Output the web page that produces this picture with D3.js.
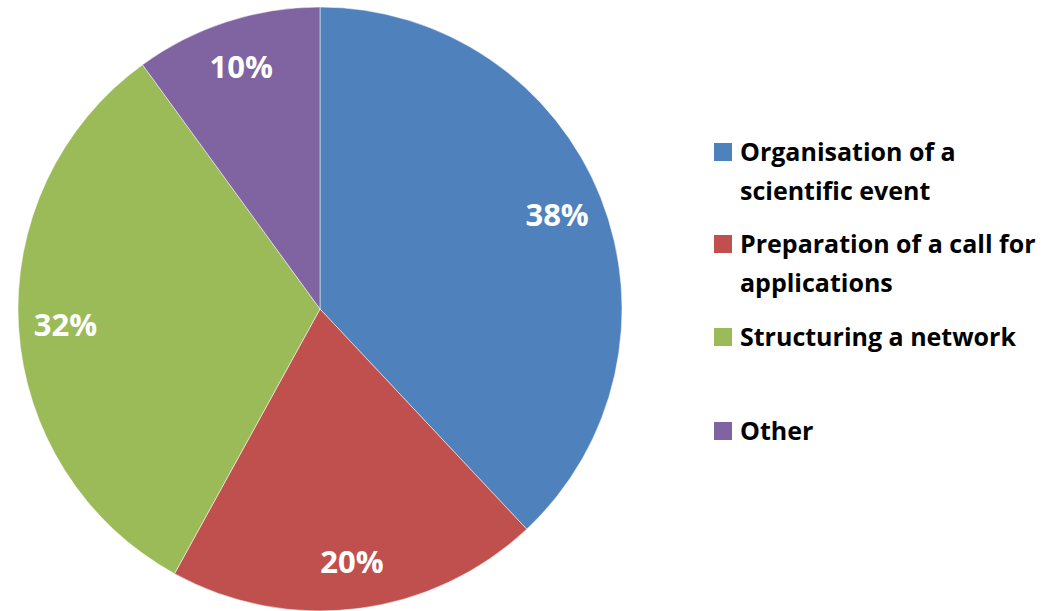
<!DOCTYPE html>
<html>
<head>
  <meta charset="utf-8">
  <style>
    body { margin: 0; padding: 0; background: white; }
    svg { display: block; font-family: "Open Sans", Lato, sans-serif; font-weight: bold; }
    .slice { stroke: rgba(255,255,255,0.5); stroke-width: 1; }
    .pct { fill: white; font-size: 31px; text-anchor: middle; }
    .legend text { fill: black; font-size: 25px; }
  </style>
</head>
<body>
  <div id="chart"></div>
  <script src="https://d3js.org/d3.v7.min.js"></script>
  <script>
  // chart data
  var categories = ["Organisation of a scientific event", "Preparation of a call for applications", "Structuring a network", "Other"];
  var legendLines = [["Organisation of a", "scientific event"], ["Preparation of a call for", "applications"], ["Structuring a network"], ["Other"]];
  var values = [38, 20, 32, 10];
  var colors = ["#4F81BD", "#C0504D", "#9BBB59", "#8064A2"];

  var width = 1061, height = 611;
  var cx = 320, cy = 309, radius = 302;

  var svg = d3.select("#chart").append("svg")
      .attr("width", width)
      .attr("height", height);

  var pie = d3.pie().sort(null).value(function (d) { return d; });
  var arcs = pie(values);

  var arc = d3.arc().innerRadius(0).outerRadius(radius);
  var labelArc = d3.arc().innerRadius(255).outerRadius(255);

  var g = svg.append("g").attr("transform", "translate(" + cx + "," + cy + ")");

  g.selectAll("path")
    .data(arcs)
    .enter().append("path")
    .attr("class", "slice")
    .attr("d", arc)
    .attr("fill", function (d, i) { return colors[i]; });

  g.selectAll("text")
    .data(arcs)
    .enter().append("text")
    .attr("class", "pct")
    .attr("transform", function (d) { return "translate(" + labelArc.centroid(d) + ")"; })
    .attr("dy", "0.36em")
    .text(function (d) { return d.data + "%"; });

  // legend
  var legendY = [152, 244, 337, 431];
  var legend = svg.append("g").attr("class", "legend")
    .selectAll("g")
    .data(categories)
    .enter().append("g")
    .attr("transform", function (d, i) { return "translate(714," + legendY[i] + ")"; });

  legend.append("rect")
    .attr("x", 0).attr("y", -9)
    .attr("width", 18).attr("height", 18)
    .attr("fill", function (d, i) { return colors[i]; });

  legend.each(function (d, i) {
    var t = d3.select(this).append("text").attr("x", 26).attr("y", 0);
    legendLines[i].forEach(function (line, j) {
      t.append("tspan").attr("x", 26).attr("y", j * 39).attr("dy", "0.35em").text(line);
    });
  });
  </script>
</body>
</html>
